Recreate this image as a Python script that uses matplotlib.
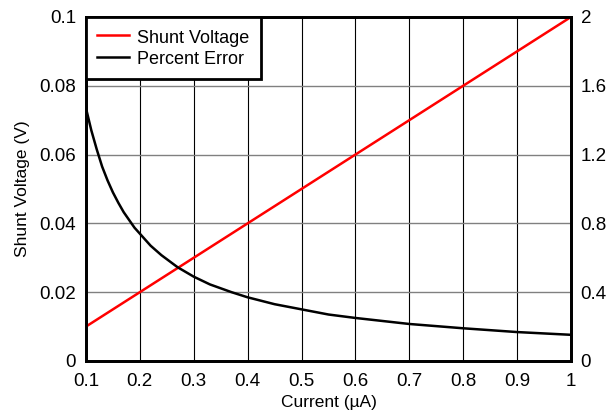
import matplotlib
matplotlib.use("Agg")
import matplotlib.pyplot as plt

plt.rcParams["font.family"] = ["Liberation Sans", "DejaVu Sans"]

# shunt voltage (V) vs current (uA)
current_v = [0.1, 1.0]
shunt_v = [0.01, 0.1]

# percent error
current_e = [0.1, 0.11, 0.12, 0.13, 0.14, 0.15, 0.16, 0.17, 0.18, 0.19, 0.2,
             0.22, 0.24, 0.27, 0.3, 0.33, 0.37, 0.4, 0.45, 0.5, 0.55, 0.6,
             0.7, 0.8, 0.9, 1.0]
pct_err = [1.47, 1.34, 1.23, 1.13, 1.05, 0.98, 0.92, 0.865, 0.82, 0.775, 0.74,
           0.67, 0.615, 0.545, 0.49, 0.445, 0.40, 0.37, 0.33, 0.30, 0.27, 0.25,
           0.215, 0.19, 0.168, 0.152]

xticks = [0.1, 0.2, 0.3, 0.4, 0.5, 0.6, 0.7, 0.8, 0.9, 1]
xlabels = ["0.1", "0.2", "0.3", "0.4", "0.5", "0.6", "0.7", "0.8", "0.9", "1"]
yticks = [0, 0.02, 0.04, 0.06, 0.08, 0.1]
ylabels = ["0", "0.02", "0.04", "0.06", "0.08", "0.1"]
rticks = [0, 0.4, 0.8, 1.2, 1.6, 2]
rlabels = ["0", "0.4", "0.8", "1.2", "1.6", "2"]

fig = plt.figure(figsize=(6.14, 4.13), dpi=100)
ax = fig.add_axes([0.140, 0.126, 0.790, 0.833])
ax2 = ax.twinx()

for x in xticks[1:-1]:
    ax.axvline(x, color="black", lw=0.8, zorder=1)
for y in yticks[1:-1]:
    ax.axhline(y, color="#808080", lw=1.0, zorder=1)

l1, = ax.plot(current_v, shunt_v, color="#ff0000", lw=1.8, zorder=3)
l2, = ax2.plot(current_e, pct_err, color="black", lw=1.8, zorder=3)

ax.set_xlim(0.1, 1)
ax.set_ylim(0, 0.1)
ax2.set_ylim(0, 2)
ax.set_xticks(xticks, xlabels)
ax.set_yticks(yticks, ylabels)
ax2.set_yticks(rticks, rlabels)
for a in (ax, ax2):
    a.tick_params(length=0, labelsize=13.5, pad=7)
    for s in a.spines.values():
        s.set_linewidth(2)
ax.tick_params(axis="x", pad=9)
ax.set_xlabel("Current (µA)", fontsize=12.5, labelpad=3)
ax.set_ylabel("Shunt Voltage (V)", fontsize=12.5, labelpad=7)

leg = ax2.legend([l1, l2], ["Shunt Voltage", "Percent Error"], loc="upper left",
                 fontsize=13, fancybox=False, framealpha=1, edgecolor="black",
                 borderaxespad=0, handlelength=1.8, handletextpad=0.45,
                 handleheight=1.1, borderpad=0.6, labelspacing=0.15)
leg.get_frame().set_linewidth(2)

fig.savefig("out.png", dpi=100)
